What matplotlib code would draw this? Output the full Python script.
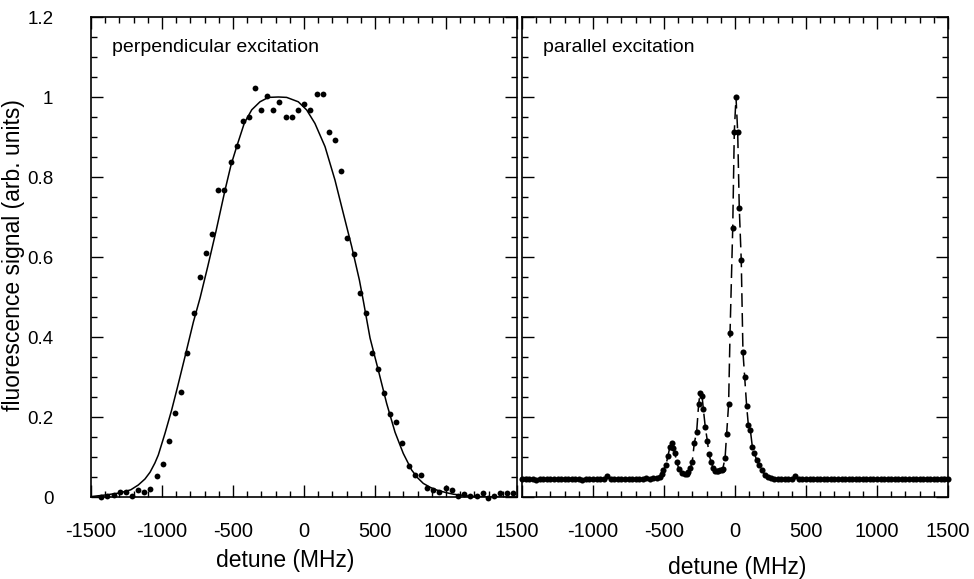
import matplotlib
matplotlib.use("Agg")
import matplotlib.pyplot as plt
from matplotlib.ticker import MultipleLocator, FixedLocator, FuncFormatter

plt.rcParams["font.family"] = ["Liberation Sans", "DejaVu Sans"]

# ---- perpendicular excitation: measured points ----
perp_x = [-1432, -1390, -1340, -1296, -1256, -1209, -1167, -1125, -1082, -1037,
          -993, -951, -908, -864, -824, -775, -732, -692, -646, -603,
          -561, -516, -474, -432, -390, -345, -303, -258, -216, -174,
          -129, -87, -42, 2, 44, 89, 134, 176, 220, 263,
          305, 350, 392, 434, 477, 519, 563, 606, 650, 692,
          737, 780, 824, 866, 911, 953, 998, 1042, 1087, 1127,
          1169, 1216, 1258, 1298, 1340, 1380, 1427, 1470]
perp_y = [0.001, 0.003, 0.005, 0.012, 0.013, 0.003, 0.0175, 0.013, 0.02, 0.052,
          0.083, 0.14, 0.211, 0.262, 0.359, 0.46, 0.55, 0.609, 0.658, 0.768,
          0.768, 0.837, 0.877, 0.94, 0.949, 1.022, 0.968, 1.003, 0.968, 0.987,
          0.949, 0.949, 0.968, 0.983, 0.968, 1.0075, 1.0075, 0.912, 0.8925, 0.815,
          0.648, 0.6075, 0.51, 0.459, 0.359, 0.321, 0.261, 0.2075, 0.1875, 0.135,
          0.077, 0.055, 0.055, 0.022, 0.0175, 0.012, 0.022, 0.0175, 0.0025, 0.007,
          0.0025, 0.0025, 0.009, -0.003, 0.002, 0.009, 0.009, 0.009]

# ---- perpendicular excitation: fitted curve ----
fit_x = [-1500, -1400, -1300, -1220, -1167, -1120, -1084, -1050, -1026, -979,
         -932, -890, -838, -779, -732, -678, -620, -556, -514, -474,
         -420, -368, -310, -251, -180, -122, -40, 19, 77, 148,
         218, 277, 336, 390, 418, 465, 523, 582, 641, 699,
         758, 800, 840, 890, 934, 1000, 1052, 1169, 1300, 1500]
fit_y = [0.001, 0.005, 0.01, 0.018, 0.03, 0.045, 0.062, 0.085, 0.105, 0.159,
         0.2175, 0.276, 0.351, 0.4375, 0.4975, 0.576, 0.664, 0.7675, 0.83, 0.876,
         0.935, 0.968, 0.988, 0.999, 1.0, 0.999, 0.988, 0.9675, 0.934, 0.876,
         0.7925, 0.709, 0.626, 0.5425, 0.49, 0.3975, 0.3175, 0.234, 0.162, 0.109,
         0.0675, 0.048, 0.034, 0.024, 0.0175, 0.011, 0.007, 0.002, 0.0, 0.0]

# ---- parallel excitation ----
base_left_x = list(range(-1500, -549, 25))
base_left_y = [0.045, 0.044, 0.046, 0.045, 0.043, 0.045, 0.046, 0.044, 0.045, 0.044,
               0.046, 0.045, 0.044, 0.045, 0.046, 0.044, 0.045, 0.043, 0.045, 0.046,
               0.045, 0.044, 0.046, 0.045, 0.053, 0.045, 0.046, 0.045, 0.044, 0.045,
               0.046, 0.045, 0.044, 0.045, 0.046, 0.047, 0.046, 0.047, 0.048]
peak_x = [-530, -517, -505, -486, -472, -458, -444, -434, -423, -411,
          -394, -375, -352, -340, -329, -315, -301, -287, -270, -256,
          -246, -232, -223, -209, -195, -183, -169, -153, -141, -129,
          -117, -106, -95, -87, -70, -59, -45, -35, -16, -5,
          7, 19, 30, 44, 56, 68, 82, 94, 108, 122,
          136, 153, 171, 188, 211, 230, 250, 275]
peak_y = [0.05, 0.058, 0.0675, 0.08, 0.1025, 0.126, 0.134, 0.122, 0.109, 0.088,
          0.069, 0.061, 0.057, 0.058, 0.063, 0.072, 0.088, 0.134, 0.163, 0.2325,
          0.259, 0.253, 0.22, 0.174, 0.141, 0.107, 0.088, 0.072, 0.066, 0.065,
          0.066, 0.0675, 0.068, 0.069, 0.097, 0.1575, 0.2325, 0.409, 0.673, 0.912,
          1.0, 0.912, 0.723, 0.592, 0.363, 0.299, 0.2275, 0.18, 0.1675, 0.126,
          0.109, 0.0925, 0.08, 0.0675, 0.055, 0.05, 0.047, 0.046]
base_right_x = list(range(300, 1501, 25))
base_right_y = [0.045, 0.044, 0.046, 0.045, 0.044, 0.052, 0.045, 0.044, 0.046, 0.045,
                0.044, 0.045, 0.046, 0.044, 0.045, 0.046, 0.045, 0.044, 0.045, 0.046,
                0.045, 0.044, 0.046, 0.045, 0.044, 0.045, 0.046, 0.044, 0.045, 0.044,
                0.046, 0.045, 0.044, 0.045, 0.046, 0.045, 0.044, 0.045, 0.046, 0.044,
                0.045, 0.046, 0.045, 0.044, 0.045, 0.046, 0.045, 0.044, 0.046]
par_x = base_left_x + peak_x + base_right_x
par_y = base_left_y + peak_y + base_right_y

xticks = [-1500, -1000, -500, 0, 500, 1000, 1500]
yticks = [0, 0.2, 0.4, 0.6, 0.8, 1.0, 1.2]

fig = plt.figure(figsize=(9.74, 5.79), dpi=100)
ax1 = fig.add_axes([91 / 974, 82 / 579, 426 / 974, 480 / 579])
ax2 = fig.add_axes([522 / 974, 82 / 579, 426 / 974, 480 / 579])

ax1.plot(fit_x, fit_y, color="black", lw=1.1)
ax1.plot(perp_x, perp_y, "o", color="black", ms=4.2, mew=0, clip_on=False)

ax2.plot(par_x, par_y, color="black", lw=1.1, ls=(0, (9, 4)))
ax2.plot(par_x, par_y, "o", color="black", ms=4.4, mew=0, clip_on=False)

for ax in (ax1, ax2):
    ax.set_xlim(-1500, 1500)
    ax.set_ylim(0, 1.2)
    ax.xaxis.set_major_locator(FixedLocator(xticks))
    ax.xaxis.set_minor_locator(MultipleLocator(100))
    ax.yaxis.set_major_locator(FixedLocator(yticks))
    ax.yaxis.set_minor_locator(MultipleLocator(0.05))
    ax.tick_params(which="both", direction="in", top=True, right=True, width=1.0)
    ax.tick_params(which="major", length=8.5)
    ax.tick_params(which="minor", length=4.3)
    ax.tick_params(axis="x", which="major", pad=18, labelsize=14.5)
    ax.tick_params(axis="y", which="major", pad=27, labelsize=13.5)
    for s in ax.spines.values():
        s.set_linewidth(1.2)

ax1.yaxis.set_major_formatter(FuncFormatter(lambda v, p: f"{v:g}"))
ax1.xaxis.set_major_formatter(FuncFormatter(lambda v, p: f"{v:g}"))
ax2.xaxis.set_major_formatter(FuncFormatter(lambda v, p: "" if v == -1500 else f"{v:g}"))
ax2.set_yticklabels([])

ax1.set_ylabel("fluorescence signal (arb. units)", fontsize=16.5, va="center")
ax1.yaxis.set_label_coords(-0.181, 0.504)
ax1.set_xlabel("detune (MHz)", fontsize=16.5, va="center")
ax1.xaxis.set_label_coords(0.455, -0.133)
ax2.set_xlabel("detune (MHz)", fontsize=16.5, va="center")
ax2.xaxis.set_label_coords(0.505, -0.146)

ax1.text(0.049, 0.9375, "perpendicular excitation", transform=ax1.transAxes,
         fontsize=14, va="center", ha="left")
ax2.text(0.049, 0.9375, "parallel excitation", transform=ax2.transAxes,
         fontsize=14, va="center", ha="left")

fig.savefig("out.png", dpi=100)
